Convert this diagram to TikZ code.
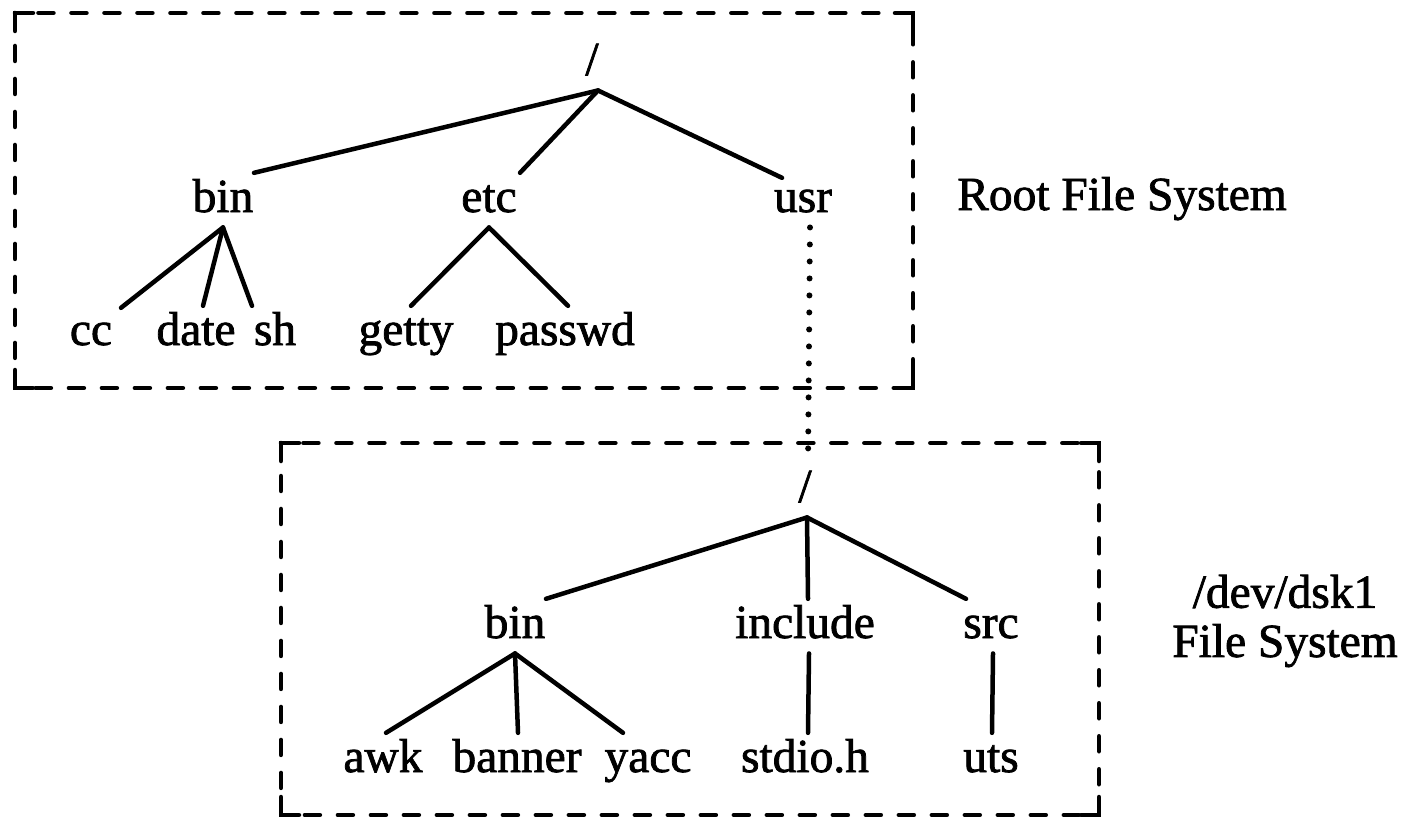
\documentclass[tikz,border=0pt]{standalone}
\usepackage{fontspec}
\setmainfont{Liberation Serif}[FakeBold=1.6]
\usetikzlibrary{calc}

\begin{document}
\begin{tikzpicture}[x=0.02cm,y=-0.02cm,
    fsnode/.style={anchor=base,inner sep=0.13cm,text height=18.4pt,text depth=4.9pt,font=\fontsize{27}{28}\selectfont},
    fslabel/.style={align=center,font=\fontsize{27}{28}\selectfont},
    branch/.style={line width=0.09cm,line cap=round},
    fsbox/.style={line width=0.09cm,line cap=round,dash pattern=on 0.3cm off 0.36cm},
    corner/.style={line width=0.09cm,line cap=round},
    mount/.style={line width=0.12cm,line cap=round,dash pattern=on 0pt off 0.34cm}]
        \useasboundingbox (0,0) rectangle (1408,828);

        % root file system
        \draw[fsbox] (15,13) rectangle (913,388);
        \draw[corner] (15,31)--(15,13)--(33,13);
        \draw[corner] (895,13)--(913,13)--(913,31);
        \draw[corner] (913,370)--(913,388)--(895,388);
        \draw[corner] (33,388)--(15,388)--(15,370);

        \node[fsnode] (root) at (592,75) {/};
        \node[fsnode] (bin) at (223,212) {bin};
        \node[fsnode] (etc) at (489,212) {etc};
        \node[fsnode] (usr) at (803,212) {usr};
        \node[fsnode] (cc) at (91,345) {cc};
        \node[fsnode] (date) at (196,345) {date};
        \node[fsnode] (sh) at (275,345) {sh};
        \node[fsnode] (getty) at (406,345) {getty};
        \node[fsnode] (passwd) at (565,345) {passwd};
        \node[fslabel,anchor=base] (rootfs) at (1122,210) {Root File System};

        \coordinate (rootj) at ($(root.south)+(6,0)$);
        \draw[branch] (rootj)--($(bin.north)+(31,0)$);
        \draw[branch] (rootj)--($(etc.north)+(31,0)$);
        \draw[branch] (rootj)--($(usr.north)+(-21,5)$);
        \draw[branch] (bin.south)--($(cc.north)+(30,2)$);
        \draw[branch] (bin.south)--($(date.north)+(7,0)$);
        \draw[branch] (bin.south)--($(sh.north)+(-23,0)$);
        \draw[branch] (etc.south)--($(getty.north)+(5,0)$);
        \draw[branch] (etc.south)--($(passwd.north)+(3,0)$);

        % mounted file system
        \draw[fsbox] (281,443) rectangle (1099,815);
        \draw[corner] (281,461)--(281,443)--(299,443);
        \draw[corner] (1081,443)--(1099,443)--(1099,461);
        \draw[corner] (1099,797)--(1099,815)--(1081,815);
        \draw[corner] (299,815)--(281,815)--(281,797);

        \node[fsnode] (root2) at (805,502) {/};
        \node[fsnode] (bin2) at (515,638) {bin};
        \node[fsnode] (include) at (805,638) {include};
        \node[fsnode] (src) at (991,638) {src};
        \node[fsnode] (awk) at (383,772) {awk};
        \node[fsnode] (banner) at (517,772) {banner};
        \node[fsnode] (yacc) at (648,772) {yacc};
        \node[fsnode] (stdio) at (805,772) {stdio.h};
        \node[fsnode] (uts) at (991,772) {uts};
        \node[fslabel] (dskfs) at (1285,621) {/dev/dsk1\\File System};

        \coordinate (root2j) at ($(root2.south)+(2,0)$);
        \draw[branch] (root2j)--($(bin2.north)+(31,0)$);
        \draw[branch] (root2j)--($(include.north)+(3,0)$);
        \draw[branch] (root2j)--($(src.north)+(-25,0)$);
        \draw[branch] (bin2.south)--($(awk.north)+(3,0)$);
        \draw[branch] (bin2.south)--($(banner.north)+(1,0)$);
        \draw[branch] (bin2.south)--($(yacc.north)+(-25,0)$);
        \draw[branch] ($(include.south)+(4,0)$)--($(stdio.north)+(3,0)$);
        \draw[branch] ($(src.south)+(2,0)$)--($(uts.north)+(1,0)$);

        \draw[mount] ($(usr.south)+(7,0)$)--($(root2.north)+(3,0)$);

      \end{tikzpicture}
\end{document}
